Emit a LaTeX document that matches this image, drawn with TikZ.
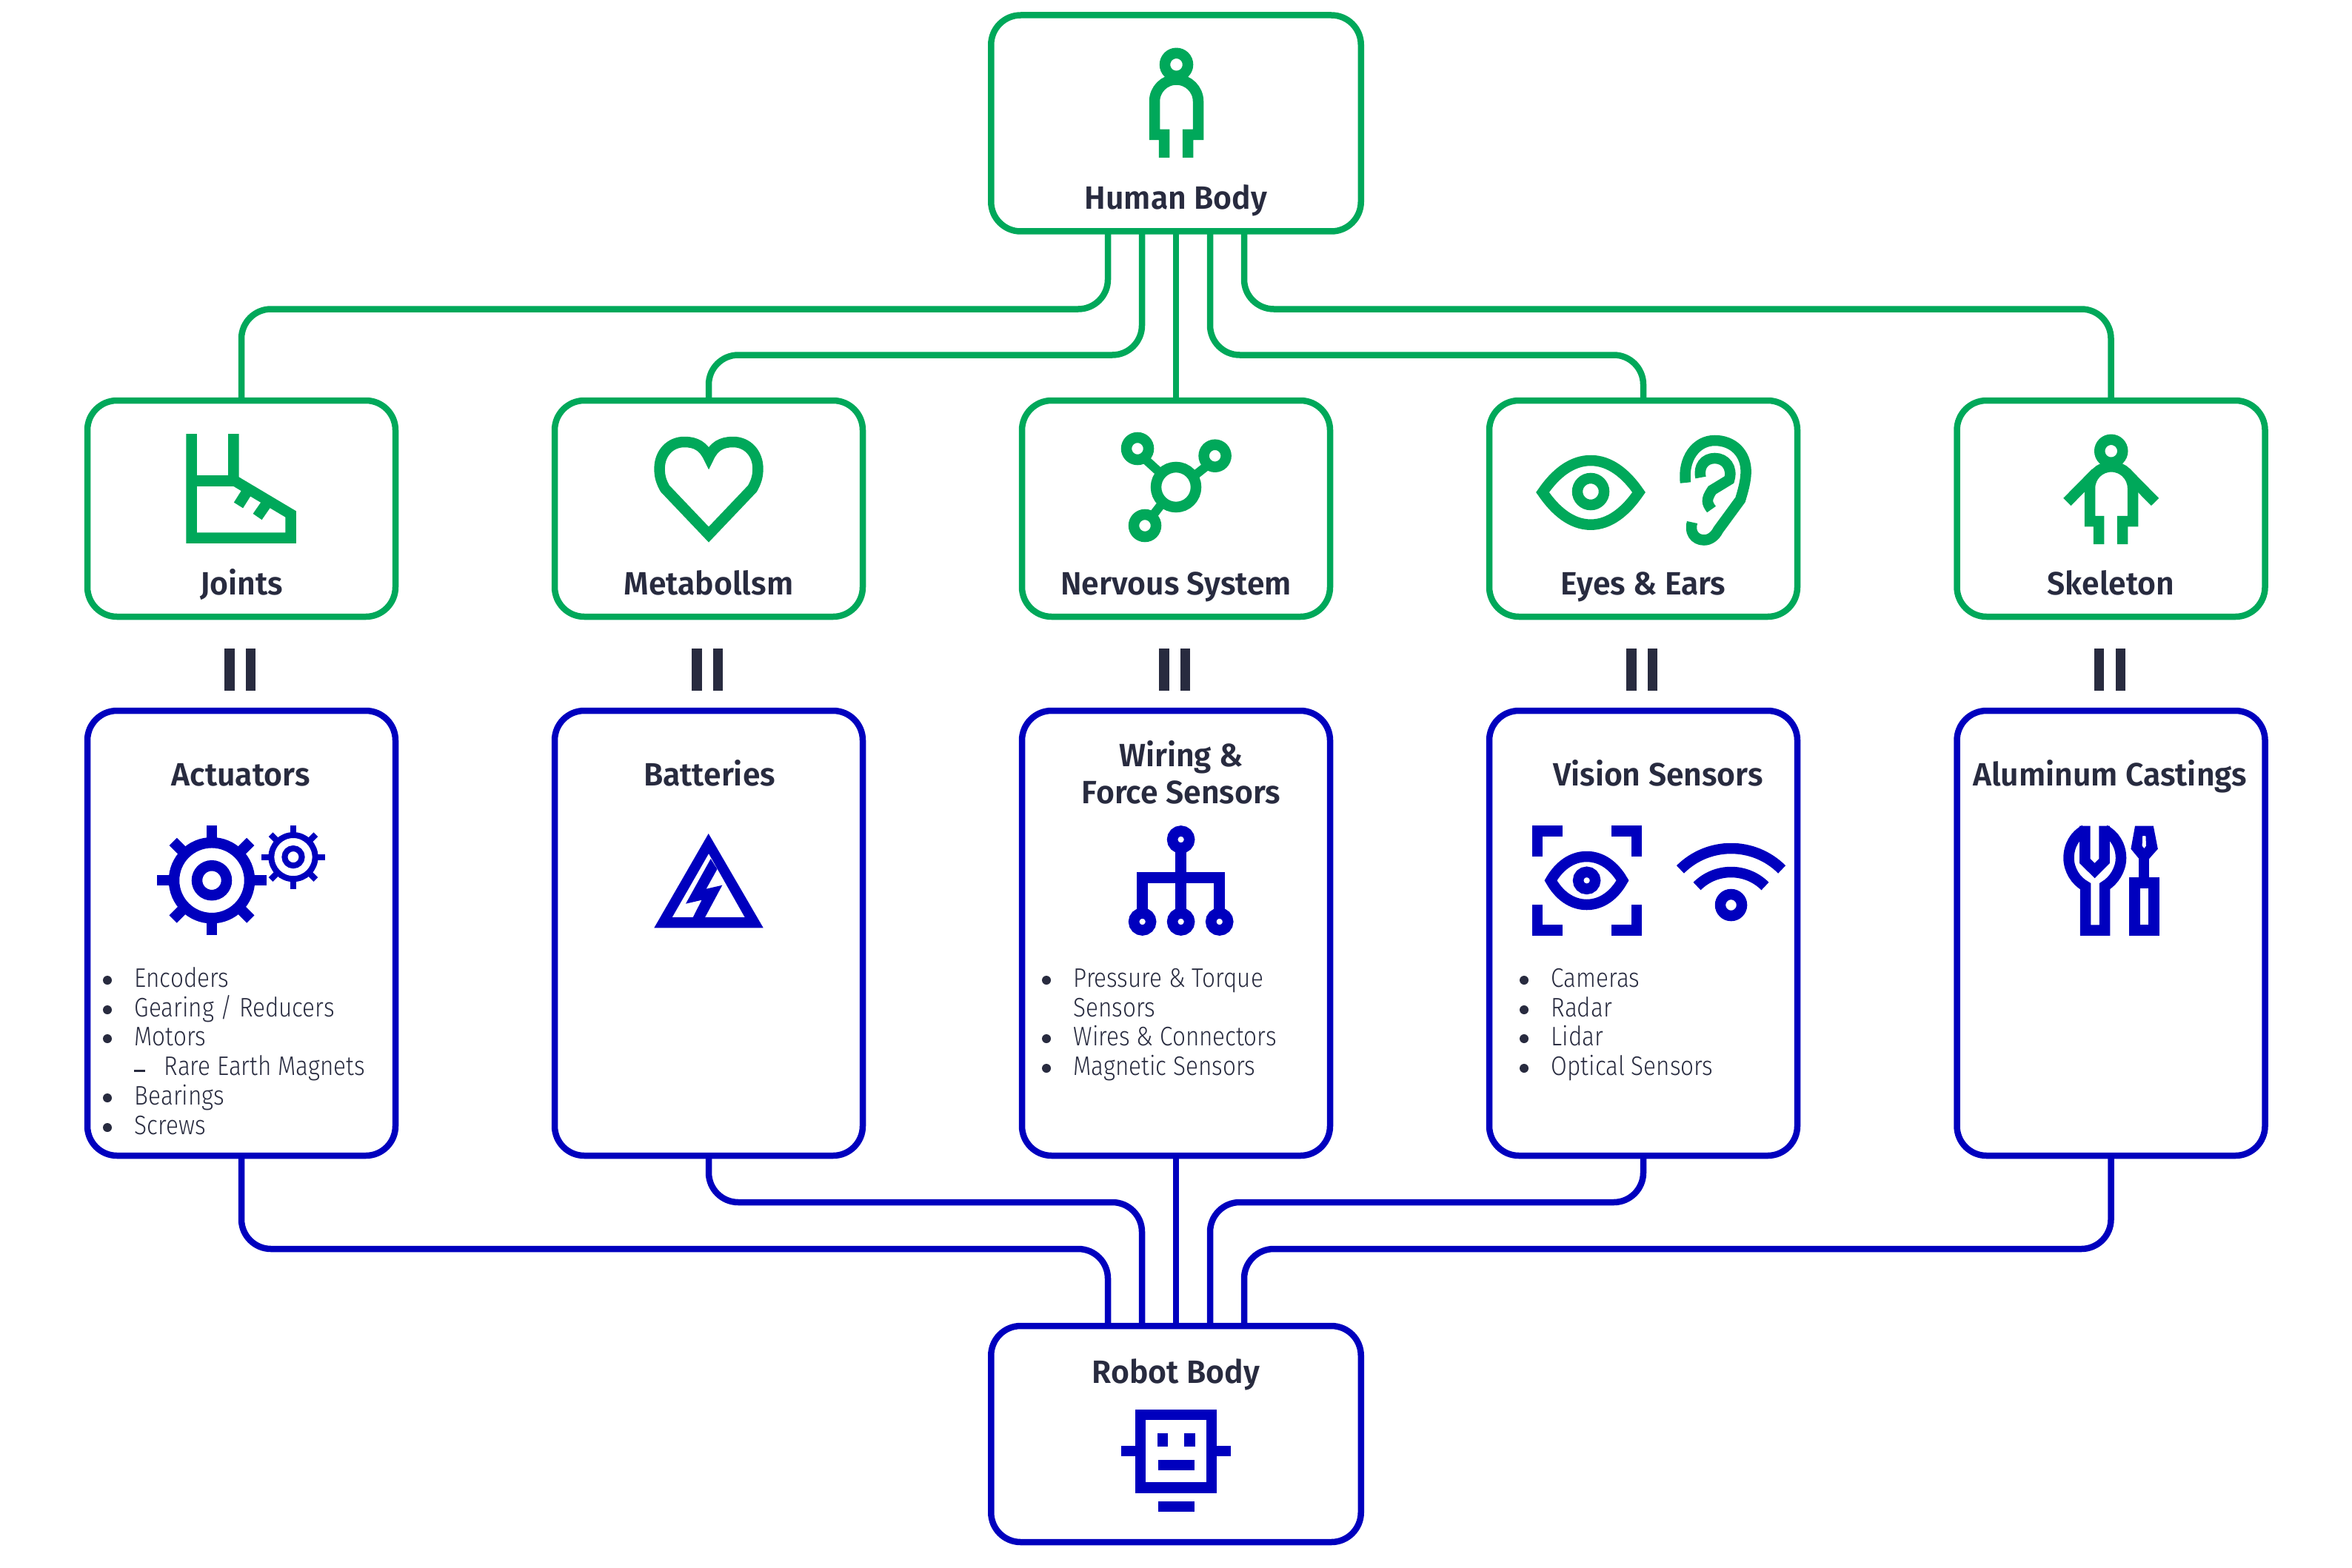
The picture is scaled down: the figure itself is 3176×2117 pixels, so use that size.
\documentclass[tikz,border=0pt]{standalone}
\usepackage{fontspec}
\setsansfont[FakeStretch=0.87, BoldFont={Fira Sans SemiBold}, BoldFeatures={FakeStretch=0.98}]{Fira Sans Light}
\usepackage{tikz}
\usetikzlibrary{calc}
\definecolor{hbGreen}{RGB}{0,168,90}
\definecolor{rbBlue}{RGB}{0,0,190}
\definecolor{inkDark}{RGB}{40,43,63}

\begin{document}
\begin{tikzpicture}[
    font=\sffamily, x=0.1mm, y=-0.1mm, inkDark,
    box/.style={draw, line width=0.85mm, rounded corners=4mm, inner sep=0pt, outer sep=0pt},
    greenbox/.style={box, draw=hbGreen, minimum width=41.6mm, minimum height=29.2mm},
    bluebox/.style={box, draw=rbBlue, minimum width=41.6mm, minimum height=60.1mm},
    mainbox/.style={minimum width=49.95mm},
    title/.style={anchor=base, font=\sffamily\bfseries\fontsize{12.4}{14.2}\selectfont, inner sep=0pt, text=inkDark},
    item/.style={anchor=base west, font=\sffamily\fontsize{10.3}{11.4}\selectfont, inner sep=0pt, text=inkDark},
    greenline/.style={draw=hbGreen, line width=0.85mm, rounded corners=4mm},
    blueline/.style={draw=rbBlue, line width=0.85mm, rounded corners=4mm},
    gicon/.style={draw=hbGreen, line width=1.45mm, miter limit=10},
    bicon/.style={draw=rbBlue, line width=1.45mm, miter limit=10}
]
\useasboundingbox (0,0) rectangle (3176,2117);

% Boxes
\node[greenbox, mainbox] (human) at (1588,166.5) {};
\node[bluebox, mainbox, minimum height=29.2mm] (robot) at (1588,1937) {};
\foreach \x/\top/\bot in {326/joints/act, 957/metab/batt, 1588/nerves/wire, 2219/eyes/vision, 2850.5/skel/alu} {
   \node[greenbox] (\top) at (\x,687) {};
   \node[bluebox] (\bot) at (\x,1260.5) {};
   % Equal signs
   \fill (\x-22.7,875.5) rectangle (\x-9.3,933);
   \fill (\x+6,875.5) rectangle (\x+19,933);
}

% Connectors
\foreach \off/\drop/\name in {-92/105/joints, -46/167/metab, 46/167/eyes, 92/105/skel} {
   \draw[greenline] ($(human.south)+(\off,0)$) -- ++(0,\drop) -| (\name.north);
}
\draw[greenline] (human.south) -- (nerves.north);
\foreach \off/\drop/\name in {-92/126/act, -46/63/batt, 46/63/vision, 92/126/alu} {
   \draw[blueline] (\name.south) -- ++(0,\drop) -| ($(robot.north)+(\off,0)$);
}
\draw[blueline] (wire.south) -- (robot.north);

% Titles
\foreach \x/\y/\n/\name in {1588/282/tHuman/Human Body, 326/803/tJoints/Joints, 957/803/tMetab/Metabollsm,
    1588/803/tNerves/Nervous System, 2219/803/tEyes/Eyes \& Ears, 2850.5/803/tSkel/Skeleton,
    325/1061/tAct/Actuators, 958/1061/tBatt/Batteries, 1595/1035/tWire/Wiring \&,
    1595/1085/tForce/Force Sensors, 2239/1061/tVision/Vision Sensors, 2849/1061/tAlu/Aluminum Castings,
    1588/1868/tRobot/Robot Body} {
   \node[title] (\n) at (\x,\y) {\name};
}

% Lists
\foreach \x/\y/\n/\name in {181/1333/a1/Encoders, 181/1373/a2/{Gearing / Reducers}, 181/1412/a3/Motors,
    181/1492/a5/Bearings, 181/1532/a6/Screws,
    1449/1333/w1/Pressure \& Torque, 1449/1412/w3/Wires \& Connectors, 1449/1452/w4/Magnetic Sensors,
    2094/1333/v1/Cameras, 2094/1373/v2/Radar, 2094/1412/v3/Lidar, 2094/1452/v4/Optical Sensors} {
   \node[item] (\n) at (\x,\y) {\name};
   \fill (\x-36,\y-9) circle (6);
}
\node[item] (w2) at (1449,1373) {Sensors};
\node[item] (a4) at (221,1452) {Rare Earth Magnets};
\fill (181,1445) rectangle (196,1447.5);

% Human icon
\draw[gicon] (1588.5,87.3) circle (15.5);
\draw[gicon] (1572,213) -- (1572,182) -- (1559,182) -- (1559,137) arc[start angle=180, end angle=360, radius=29.5]
   -- (1618,182) -- (1604,182) -- (1604,213);

% Skeleton icon
\draw[gicon] (2850.7,609.3) circle (15.5);
\draw[gicon] (2834,735) -- (2834,704) -- (2822,704) -- (2822,659.3) arc[start angle=180, end angle=360, radius=29]
   -- (2880,704) -- (2866,704) -- (2866,735);
\draw[gicon] (2791.3,678) -- (2830,638.8);
\draw[gicon] (2910,678) -- (2871.4,638.8);

% Joints icon
\draw[gicon] (258.5,586) -- (258.5,726.6) -- (392.5,726.6) -- (392.5,694.4) -- (315.4,648.5) -- (315.4,586);
\draw[gicon] (258.5,649.3) -- (315.4,649.3);
\draw[gicon] (333,665) -- (322,682.5);
\draw[gicon] (359,681.5) -- (347.6,698);

% Heart icon
\draw[gicon] (957,618) .. controls (950,603) and (940,597) .. (924,597)
   .. controls (905,597) and (890.6,612) .. (890.6,633) .. controls (890.6,644) and (893,651) .. (898,660)
   -- (957,722) -- (1016,660) .. controls (1021,651) and (1023.4,644) .. (1023.4,633)
   .. controls (1023.4,612) and (1009,597) .. (990,597) .. controls (974,597) and (964,603) .. (957,618) -- cycle;

% Nerves icon
\draw[gicon] (1588,658) circle (27);
\foreach \x/\y in {1536/606, 1640.6/615.7, 1546/710} {
   \draw[gicon] (\x,\y) circle (15);
}
\draw[gicon, line width=1.2mm] (1546,620) -- (1568,640);
\draw[gicon, line width=1.2mm] (1630,629) -- (1611,644);
\draw[gicon, line width=1.2mm] (1556,697) -- (1570,679);

% Eye and ear icon
\draw[gicon] (2083,665) .. controls (2100,640) and (2122,622) .. (2148,622)
   .. controls (2174,622) and (2196,640) .. (2213,665) .. controls (2196,690) and (2174,708.7) .. (2148,708.7)
   .. controls (2122,708.7) and (2100,690) .. (2083,665) -- cycle;
\draw[gicon] (2148,664) circle (18);
\draw[gicon] (2276,652) .. controls (2272,620) and (2290,595) .. (2315.5,595)
   .. controls (2340,595) and (2357.6,612) .. (2357.6,637) .. controls (2357.6,650) and (2353,665) .. (2350,675)
   -- (2320,716) .. controls (2316,724) and (2309,729.5) .. (2301,729.5)
   .. controls (2288,729.5) and (2281,718) .. (2285,705.5);
\draw[gicon] (2296.5,645) .. controls (2293,630) and (2302,619) .. (2315.5,619)
   .. controls (2330,619) and (2340,632) .. (2335,648) -- (2312,662) .. controls (2303,675) and (2305,680) .. (2311,688);

% Gear icons
\begin{scope}[shift={(286,1189.2)}]
   \draw[bicon] (0,0) circle (20) (0,0) circle (51);
   \foreach \a in {0,45,...,315} { \draw[bicon] (\a:51) -- (\a:74); }
\end{scope}
\begin{scope}[shift={(396,1157.6)}]
   \draw[bicon, line width=0.8mm] (0,0) circle (11.6) (0,0) circle (29.6);
   \foreach \a in {0,45,...,315} { \draw[bicon, line width=0.8mm] (\a:29.6) -- (\a:43); }
\end{scope}

% Battery icon
\fill[rbBlue, even odd rule] (956.7,1126) -- (1030.7,1253.3) -- (883.3,1253.3) -- cycle
   (957,1153) -- (1005.7,1239) -- (907.7,1239) -- cycle;
\fill[rbBlue] (959.7,1160) -- (926,1220.7) -- (947.6,1215.7) -- (934.7,1241) -- (951,1241)
   -- (975.3,1195.7) -- (953.6,1200.7) -- (968.5,1174) -- cycle;

% Wiring icon
\foreach \x/\y in {1594.6/1134, 1542.6/1245, 1594.6/1245, 1646.7/1245} {
   \draw[bicon] (\x,\y) circle (11.5);
}
\draw[bicon] (1594.6,1146) -- (1594.6,1233);
\draw[bicon] (1542.6,1233) -- (1542.6,1185.7) -- (1646.7,1185.7) -- (1646.7,1233);

% Vision icon
\draw[bicon] (2110,1122.7) -- (2076,1122.7) -- (2076,1156.7);
\draw[bicon] (2175.6,1122.7) -- (2210,1122.7) -- (2210,1156.7);
\draw[bicon] (2110,1256.7) -- (2076,1256.7) -- (2076,1222.3);
\draw[bicon] (2175.6,1256.7) -- (2210,1256.7) -- (2210,1222.3);
\draw[bicon] (2094,1189.3) .. controls (2105,1170) and (2122,1157) .. (2142.6,1157)
   .. controls (2163,1157) and (2180,1170) .. (2191,1189.3) .. controls (2180,1209) and (2163,1222) .. (2142.6,1222)
   .. controls (2122,1222) and (2105,1209) .. (2094,1189.3) -- cycle;
\draw[bicon] (2142.6,1189.3) circle (11.5);

% Wifi icon
\draw[bicon] (2337.5,1243) ++(225:97) arc[start angle=225, end angle=315, radius=97];
\draw[bicon] (2337.5,1243) ++(225:65) arc[start angle=225, end angle=315, radius=65];
\draw[bicon] (2337.5,1222.5) circle (14.5);

% Tools icon
\draw[bicon] (2815.4,1115.7) -- (2815.4,1163) -- (2828.5,1176) -- (2841.6,1163) -- (2841.6,1115.7);
\draw[bicon] (2815.4,1121) .. controls (2802,1128) and (2793.5,1142) .. (2793.5,1159)
   .. controls (2793.5,1175) and (2803,1190) .. (2816,1197) -- (2816,1256.5) -- (2842,1256.5) -- (2842,1197)
   .. controls (2854,1190) and (2864,1175) .. (2864,1159) .. controls (2864,1142) and (2855,1128) .. (2841.6,1121);
\draw[bicon] (2882.5,1192.4) rectangle (2908.5,1256.5);
\fill[rbBlue] (2888.4,1186) rectangle (2902,1158);
\fill[rbBlue, even odd rule] (2883,1115.7) -- (2907.8,1115.7) -- (2913.8,1146.7) -- (2902,1160) -- (2888.4,1160) -- (2877.4,1146.7) -- cycle
   (2893,1129) -- (2897.4,1129) -- (2898,1142.7) -- (2895.3,1146) -- (2892.6,1142.7) -- cycle;

% Robot icon
\draw[bicon] (1540.2,1911) rectangle (1635.8,2009.7);
\fill[rbBlue] (1513.9,1953.3) rectangle (1533.2,1967.3);
\fill[rbBlue] (1642.7,1953.3) rectangle (1662,1967.3);
\fill[rbBlue] (1562.8,1935.7) rectangle (1576.5,1954.3);
\fill[rbBlue] (1599.3,1935.7) rectangle (1613.7,1954.3);
\fill[rbBlue] (1563.5,1972) rectangle (1613,1986);
\fill[rbBlue] (1563.5,2027.7) rectangle (1613,2041.7);
\end{tikzpicture}
\end{document}
